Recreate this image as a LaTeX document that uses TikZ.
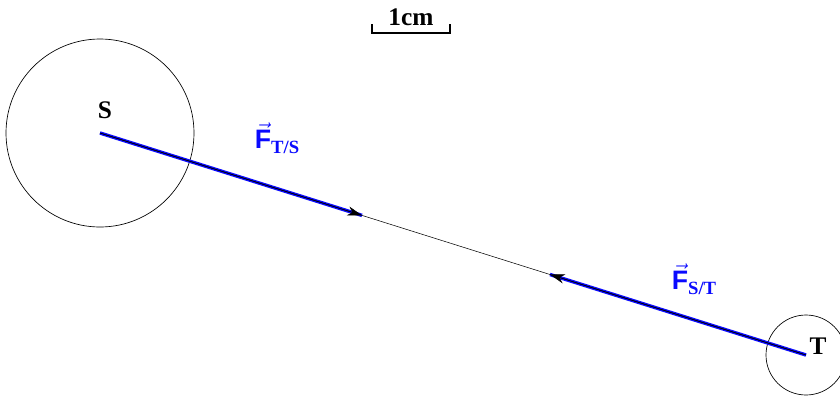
\documentclass[tikz,border=0pt]{standalone}
\usepackage{fontspec}
\setmainfont{Liberation Serif}
\setsansfont{Liberation Sans}
\usetikzlibrary{arrows.meta}
\definecolor{forceblue}{RGB}{10,10,255}
\tikzset{every path/.style={line width=0.5pt},
  body/.style={draw, circle, inner sep=0pt},
  force/.style={draw=forceblue, line width=2.6pt},
  tip/.style={-{Stealth[length=11pt,width=7pt,black]}},
  lbl/.style={font=\bfseries\fontsize{19}{22}\selectfont, inner sep=0pt},
  flbl/.style={text=forceblue, inner sep=0pt, font=\fontsize{20}{22}\selectfont}}
\newcommand{\vecF}[1]{$\vec{\textsf{\textbf{F}}}$\raisebox{-0.4ex}{\fontsize{14}{16}\selectfont\bfseries #1}}

\begin{document}
\begin{tikzpicture}[x=0.75pt,y=-0.75pt]
\useasboundingbox (0,0) rectangle (840,401);
% bodies
\coordinate (S) at (100,133);
\coordinate (T) at (806,355);
\node[body, minimum size=188*0.75pt] (sun) at (S) {};
\node[body, minimum size=80*0.75pt] (earth) at (T) {};
% forces
\coordinate (fts) at (362,215.4);
\coordinate (fst) at (550,274.5);
\draw[force] (S) -- (fts);
\draw[force] (T) -- (fst);
\draw[tip, line width=0.4pt] (S) -- (fts);
\draw[tip, line width=0.4pt] (T) -- (fst);
\draw[line width=0.4pt] (S) -- (T);
% labels
\node[lbl] (sname) at (105,110) {S};
\node[lbl] (tname) at (818,346) {T};
\node[flbl] (ftslbl) at (277,138) {\vecF{T/S}};
\node[flbl] (fstlbl) at (694,279) {\vecF{S/T}};
% scale
\draw[line width=0.8pt] (372,24) -- (372,33) -- (450,33) -- (450,24);
\node[lbl] (scale) at (411,17) {1cm};
\end{tikzpicture}
\end{document}
